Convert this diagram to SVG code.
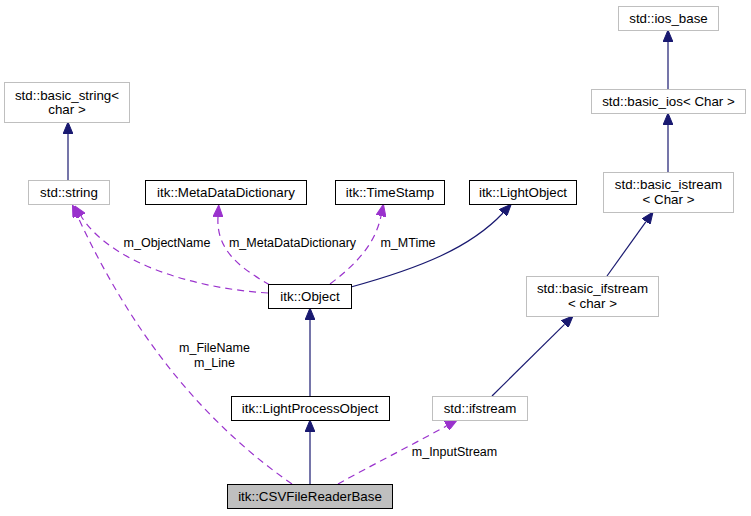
<svg xmlns="http://www.w3.org/2000/svg" width="751" height="516" viewBox="0 0 751 516">
<style>
  .n rect { fill: #ffffff; stroke: #000000; stroke-width: 1; }
  .n.ext rect { stroke: #bfbfbf; }
  .n.cur rect { fill: #bfbfbf; }
  .n text { font-family: "Liberation Sans", Arial, sans-serif; font-size: 13.33px; text-anchor: middle; fill: #000000; }
  .e { fill: none; stroke: #191970; stroke-width: 1.2; }
  .d { fill: none; stroke: #9a32cd; stroke-width: 1.2; stroke-dasharray: 7,5; }
  .lbl { font-family: "Liberation Sans", Arial, sans-serif; font-size: 12.5px; text-anchor: middle; fill: #000000; }
</style>
<defs>
  <marker id="an" markerWidth="12" markerHeight="10" refX="0" refY="5" orient="auto" markerUnits="userSpaceOnUse">
    <path d="M0,0 L12,5 L0,10 z" fill="#191970" stroke="#191970" stroke-width="1"/>
  </marker>
  <marker id="ap" markerWidth="12" markerHeight="10" refX="0" refY="5" orient="auto" markerUnits="userSpaceOnUse">
    <path d="M0,0 L12,5 L0,10 z" fill="#9a32cd" stroke="#9a32cd" stroke-width="1"/>
  </marker>
</defs>
<rect x="0" y="0" width="751" height="516" fill="#ffffff"/>

<g id="connectors">
  <path class="e" d="M68,180 L68,134" marker-end="url(#an)"/>
  <path class="e" d="M668,89 L668,42" marker-end="url(#an)"/>
  <path class="e" d="M668,172 L668,125" marker-end="url(#an)"/>
  <path class="e" d="M607,276 L646,221.7" marker-end="url(#an)"/>
  <path class="e" d="M492,396 L564.5,324.4" marker-end="url(#an)"/>
  <path class="e" d="M351,287 C420,268 470,248 503,213" marker-end="url(#an)"/>
  <path class="e" d="M310,396 L310,320" marker-end="url(#an)"/>
  <path class="e" d="M310,484 L310,432" marker-end="url(#an)"/>

  <path class="d" d="M268,293 C190,288 110,262 81,216" marker-end="url(#ap)"/>
  <path class="d" d="M270,285 C240,268 216,250 218,217" marker-end="url(#ap)"/>
  <path class="d" d="M330,284 C355,265 375,245 381,216" marker-end="url(#ap)"/>
  <path class="d" d="M292,484 C200,420 130,330 77.5,216" marker-end="url(#ap)"/>
  <path class="d" d="M338,484 C370,466 410,446 446.6,425.9" marker-end="url(#ap)"/>

  <text class="lbl" x="167" y="247">m_ObjectName</text>
  <text class="lbl" x="292.5" y="247">m_MetaDataDictionary</text>
  <text class="lbl" x="408" y="247">m_MTime</text>
  <text class="lbl" x="214.5" y="352">m_FileName</text>
  <text class="lbl" x="214.5" y="367">m_Line</text>
  <text class="lbl" x="454.5" y="456">m_InputStream</text>
</g>

<g id="node_basic_string" class="n ext">
  <rect x="4.5" y="82.5" width="125" height="40"/>
  <text x="67" y="100">std::basic_string&lt;</text>
  <text x="67" y="114">char &gt;</text>
</g>
<g id="node_string" class="n ext">
  <rect x="28.5" y="180.5" width="81" height="24"/>
  <text x="69" y="197">std::string</text>
</g>
<g id="node_MetaDataDictionary" class="n">
  <rect x="145.5" y="180.5" width="161" height="24"/>
  <text x="226" y="197">itk::MetaDataDictionary</text>
</g>
<g id="node_TimeStamp" class="n">
  <rect x="335.5" y="180.5" width="109" height="24"/>
  <text x="390" y="197">itk::TimeStamp</text>
</g>
<g id="node_LightObject" class="n">
  <rect x="469.5" y="180.5" width="107" height="24"/>
  <text x="523" y="197">itk::LightObject</text>
</g>
<g id="node_Object" class="n">
  <rect x="268.5" y="284.5" width="83" height="24"/>
  <text x="310" y="301">itk::Object</text>
</g>
<g id="node_LightProcessObject" class="n">
  <rect x="231.5" y="396.5" width="158" height="24"/>
  <text x="310" y="413">itk::LightProcessObject</text>
</g>
<g id="node_CSVFileReaderBase" class="n cur">
  <rect x="227.5" y="484.5" width="165" height="24"/>
  <text x="310" y="501">itk::CSVFileReaderBase</text>
</g>
<g id="node_ifstream" class="n ext">
  <rect x="432.5" y="396.5" width="95" height="24"/>
  <text x="480" y="413">std::ifstream</text>
</g>
<g id="node_basic_ifstream" class="n ext">
  <rect x="526.5" y="276.5" width="132" height="40"/>
  <text x="592.5" y="293">std::basic_ifstream</text>
  <text x="592.5" y="308">&lt; char &gt;</text>
</g>
<g id="node_basic_istream" class="n ext">
  <rect x="603.5" y="172.5" width="130" height="40"/>
  <text x="668.5" y="189">std::basic_istream</text>
  <text x="668.5" y="204">&lt; Char &gt;</text>
</g>
<g id="node_basic_ios" class="n ext">
  <rect x="591.5" y="89.5" width="154" height="24"/>
  <text x="668.5" y="106">std::basic_ios&lt; Char &gt;</text>
</g>
<g id="node_ios_base" class="n ext">
  <rect x="618.5" y="6.5" width="100" height="24"/>
  <text x="668.5" y="23">std::ios_base</text>
</g>
</svg>
